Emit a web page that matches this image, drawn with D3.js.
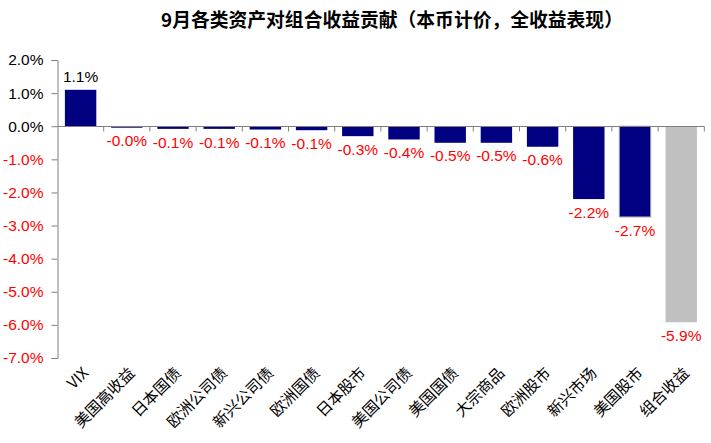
<!DOCTYPE html>
<html><head><meta charset="utf-8">
<script src="https://cdn.jsdelivr.net/npm/d3@7"></script>
<style>body{margin:0;background:#fff}svg{display:block}</style>
</head><body>
<script>
const title = "9月各类资产对组合收益贡献（本币计价，全收益表现）";
const categories = ["VIX","美国高收益","日本国债","欧洲公司债","新兴公司债","欧洲国债","日本股市","美国公司债","美国国债","大宗商品","欧洲股市","新兴市场","美国股市","组合收益"];
const values = [1.1,-0.045,-0.08,-0.08,-0.1,-0.12,-0.3,-0.4,-0.5,-0.5,-0.62,-2.2,-2.74,-5.92];
const valueLabels = ["1.1%","-0.0%","-0.1%","-0.1%","-0.1%","-0.1%","-0.3%","-0.4%","-0.5%","-0.5%","-0.6%","-2.2%","-2.7%","-5.9%"];
const yTicks = [2,1,0,-1,-2,-3,-4,-5,-6,-7];

const W = 711, H = 443;
const svg = d3.select("body").append("svg").attr("width", W).attr("height", H);
const mLeft = 57.5, mRight = 704.3, mTop = 60, mBottom = 358;
const y = d3.scaleLinear().domain([-7, 2]).range([mBottom, mTop]);
const x = d3.scaleBand().domain(categories).range([mLeft, mRight]).paddingInner(0.32).paddingOuter(0.16);
const step = x.step();
const latin = "'Liberation Sans', Arial, sans-serif";
const cjk = "'Noto Sans CJK SC', sans-serif";

svg.append("text").attr("x", 392).attr("y", 27).attr("text-anchor", "middle")
  .attr("font-family", cjk).attr("font-weight", "bold").attr("font-size", 18.8).attr("fill", "#000").text(title);

// bars
svg.selectAll("rect.bar").data(categories).enter().append("rect")
  .attr("x", d => x(d)).attr("width", x.bandwidth())
  .attr("y", (d, i) => y(Math.max(0, values[i])))
  .attr("height", (d, i) => Math.abs(y(values[i]) - y(0)))
  .attr("fill", (d, i) => i === categories.length - 1 ? "#C0C0C0" : "#000080")
  .attr("stroke", d => d === "美国股市" ? "#a6a6a6" : "none").attr("stroke-width", 1);

// y axis
const ya = svg.append("g").attr("transform", `translate(${mLeft},0)`)
  .call(d3.axisLeft(y).tickValues(yTicks).tickSize(6).tickPadding(8).tickFormat(d => d.toFixed(1) + "%"));
ya.select(".domain").attr("stroke", "#808080");
ya.selectAll(".tick line").attr("stroke", "#808080");
ya.selectAll(".tick text").attr("font-family", latin).attr("font-size", 15.5)
  .attr("fill", d => d < 0 ? "#FF0000" : "#000");

// x axis line at zero
const y0 = Math.round(y(0)) + 0.5;
svg.append("line").attr("x1", mLeft).attr("x2", mRight).attr("y1", y0).attr("y2", y0).attr("stroke", "#808080");
svg.selectAll("line.xt").data(d3.range(1, categories.length + 1)).enter().append("line")
  .attr("x1", i => mLeft + i * step).attr("x2", i => mLeft + i * step)
  .attr("y1", y0).attr("y2", y0 + 5).attr("stroke", "#808080");

// value labels
svg.selectAll("text.vl").data(categories).enter().append("text")
  .attr("x", d => x(d) + x.bandwidth() / 2)
  .attr("y", (d, i) => values[i] >= 0 ? y(values[i]) - 8 : y(values[i]) + 18.7)
  .attr("text-anchor", "middle").attr("font-family", latin).attr("font-size", 15.5)
  .attr("fill", (d, i) => values[i] >= 0 ? "#000" : "#FF0000")
  .text((d, i) => valueLabels[i]);

// category labels
svg.selectAll("text.cl").data(categories).enter().append("text")
  .attr("transform", d => `translate(${x(d) + x.bandwidth() / 2 + 9},${374}) rotate(-45)`)
  .attr("text-anchor", "end").attr("font-family", cjk).attr("font-size", 15.5).attr("fill", "#000")
  .text(d => d);
</script>
</body></html>
